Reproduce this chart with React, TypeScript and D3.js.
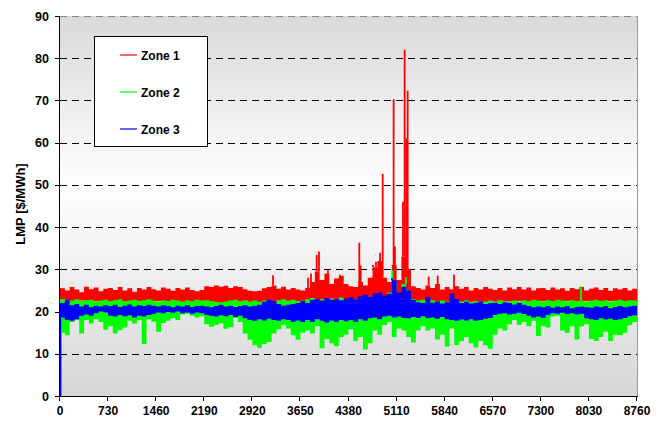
import React from "react";
import * as d3 from "d3";

const xTicks = [0, 730, 1460, 2190, 2920, 3650, 4380, 5110, 5840, 6570, 7300, 8030, 8760];
const yTicks = [0, 10, 20, 30, 40, 50, 60, 70, 80, 90];
const seriesNames = ["Zone 1", "Zone 2", "Zone 3"];
const seriesColors = ["#ff0000", "#00ff00", "#0000ff"];
const BIN_HOURS = 73;
const startValue = 0;

// per-bin (73 h) upper / lower envelope
const zone1High = [
  25.5, 25.0, 25.8, 25.2, 24.6, 25.9, 25.3, 25.7, 24.8, 25.4,
  25.6, 25.1, 25.8, 25.0, 25.5, 24.7, 25.6, 25.2, 25.8, 25.3,
  25.0, 25.7, 25.4, 24.9, 25.6, 25.2, 25.7, 25.1, 24.8, 25.1,
  26.0, 25.8, 26.2, 25.9, 26.1, 25.6, 26.0, 25.8, 25.3, 24.9,
  24.8, 24.9, 25.5, 25.8, 26.2, 25.4, 25.9, 25.2, 25.6, 25.2,
  25.0, 25.6, 27.0, 29.5, 27.5, 29.0, 26.5, 27.8, 28.4, 26.5,
  26.0, 25.8, 27.0, 26.2, 28.0, 30.5, 32.0, 28.0, 27.0, 31.0,
  27.5, 33.0, 30.0, 26.0, 25.6, 25.2, 26.2, 25.6, 26.5, 25.2,
  25.8, 25.3, 26.0, 25.4, 25.8, 25.0, 25.6, 25.2, 25.8, 25.4,
  25.1, 25.6, 25.0, 25.7, 25.3, 25.8, 25.2, 25.7, 25.0, 25.5,
  25.6, 25.1, 25.7, 25.2, 25.5, 24.9, 25.6, 25.3, 25.8, 25.0,
  25.4, 25.7, 25.1, 25.6, 24.9, 25.5, 25.2, 25.6, 25.0, 25.4,
];
const zone1Low = [
  22.4, 22.0, 22.5, 22.2, 22.6, 22.3, 22.1, 22.5, 22.2, 22.4,
  22.3, 22.6, 22.2, 22.4, 22.1, 22.5, 22.3, 22.0, 22.4, 22.2,
  22.5, 22.2, 22.4, 22.1, 22.3, 21.5, 22.4, 22.2, 22.5, 22.3,
  22.2, 22.0, 21.5, 21.4, 21.6, 22.3, 22.4, 22.1, 22.5, 22.2,
  22.3, 21.2, 22.0, 22.4, 22.2, 22.5, 22.3, 22.1, 22.4, 20.2,
  21.0, 22.0, 22.5, 22.3, 22.6, 22.4, 22.2, 22.5, 22.3, 22.6,
  22.4, 22.7, 22.3, 22.5, 22.8, 22.6, 22.9, 22.5, 22.7, 23.0,
  22.8, 23.5, 23.0, 22.5, 22.3, 22.4, 22.2, 22.5, 22.3, 22.4,
  22.2, 22.5, 22.3, 22.1, 22.4, 22.2, 22.5, 22.3, 22.1, 22.4,
  22.3, 22.5, 22.2, 22.4, 22.1, 22.5, 22.3, 22.2, 22.4, 22.3,
  22.5, 22.2, 22.4, 22.3, 22.1, 22.5, 22.3, 22.4, 22.2, 22.5,
  22.3, 22.1, 22.4, 22.2, 22.5, 21.2, 22.3, 22.4, 22.2, 22.4,
];
const zone2High = [
  23.0, 22.8, 22.6, 22.9, 22.5, 22.7, 22.8, 22.4, 22.6, 22.8,
  22.5, 22.7, 22.9, 22.4, 22.6, 22.8, 22.5, 22.7, 22.9, 22.6,
  22.4, 22.7, 22.5, 22.8, 22.6, 22.4, 22.7, 22.5, 22.8, 22.6,
  22.7, 22.5, 22.3, 22.2, 22.4, 22.6, 22.8, 22.5, 22.7, 22.4,
  22.6, 22.3, 22.6, 22.8, 22.5, 22.7, 22.9, 22.6, 22.8, 22.5,
  22.6, 22.9, 23.2, 22.8, 23.0, 22.7, 23.1, 22.9, 23.3, 23.0,
  23.2, 23.0, 23.4, 23.1, 23.5, 23.8, 24.0, 23.6, 24.5, 27.0,
  24.0, 26.5, 25.0, 23.0, 22.6, 22.8, 22.5, 22.7, 22.4, 22.6,
  22.3, 22.5, 22.7, 22.4, 22.6, 22.3, 22.5, 22.2, 22.4, 22.6,
  22.4, 22.7, 22.5, 22.3, 22.6, 22.4, 22.7, 22.5, 22.8, 22.6,
  22.4, 22.7, 22.5, 22.8, 22.6, 22.4, 22.7, 22.5, 22.6, 22.4,
  22.6, 22.8, 22.5, 22.7, 22.4, 22.6, 22.8, 22.5, 22.7, 22.6,
];
const zone2Low = [
  15.0, 14.4, 17.5, 18.0, 14.8, 18.0, 17.2, 18.2, 17.5, 15.7,
  16.5, 14.8, 15.6, 16.2, 17.8, 17.2, 18.0, 12.3, 18.2, 17.6,
  15.2, 17.3, 17.8, 18.4, 18.0, 19.3, 19.5, 19.0, 18.6, 18.9,
  17.0, 16.4, 16.8, 17.2, 15.9, 16.3, 18.5, 17.5, 14.8, 13.3,
  12.0, 11.4, 12.3, 12.8, 14.8, 15.8, 16.8, 16.0, 14.4, 13.3,
  15.0, 15.5, 14.8, 16.5, 11.3, 13.5, 12.5, 11.8, 14.0, 14.5,
  15.8, 13.0, 14.0, 11.0, 12.5, 15.5, 14.5, 16.8, 17.5, 14.0,
  16.0, 15.5, 14.0, 12.7, 15.5, 16.5, 15.5, 16.0, 13.4, 14.5,
  11.7, 16.0, 12.1, 13.0, 14.0, 12.5, 11.5, 13.0, 12.0, 11.2,
  14.5, 16.0, 15.5, 17.0, 18.0, 16.8, 17.5, 16.5, 17.8, 14.2,
  16.5, 16.2, 18.8, 19.0, 15.5, 15.0, 16.5, 13.4, 16.5, 17.0,
  13.5, 13.0, 14.0, 15.2, 13.0, 14.5, 14.4, 15.0, 16.8, 17.5,
];
const zone3High = [
  22.0, 22.8, 21.5, 21.8, 21.2, 21.6, 21.0, 21.4, 21.2, 21.5,
  21.3, 21.6, 21.1, 21.4, 21.7, 21.2, 21.5, 21.3, 21.6, 21.4,
  21.2, 21.5, 21.3, 21.0, 21.4, 21.2, 21.5, 21.1, 21.3, 21.4,
  21.2, 21.0, 21.3, 21.6, 21.2, 21.4, 21.1, 21.3, 21.5, 21.2,
  21.4, 21.6, 22.3, 22.8, 22.5, 21.8, 21.4, 21.6, 21.8, 22.0,
  22.5, 22.0, 22.8, 23.0, 22.6, 23.2, 22.8, 23.0, 22.7, 23.1,
  23.4, 22.9, 23.6, 24.0, 23.5, 24.3, 24.5, 23.8, 24.2, 27.5,
  24.5, 25.8, 25.0, 22.8, 22.2, 22.0, 23.5, 22.1, 22.4, 21.9,
  22.2, 24.2, 23.0, 22.0, 22.3, 21.9, 22.1, 22.4, 21.8, 22.0,
  22.1, 21.8, 22.2, 22.0, 21.7, 22.1, 21.6, 21.3, 21.0, 21.2,
  21.0, 21.3, 20.9, 21.2, 21.0, 21.3, 20.8, 21.1, 21.2, 21.0,
  20.9, 21.2, 21.0, 21.3, 20.8, 21.1, 21.3, 21.0, 21.2, 21.4,
];
const zone3Low = [
  18.6, 18.0, 17.8, 18.2, 19.0, 19.3, 19.0, 19.6, 20.0, 19.8,
  19.0, 18.8, 19.2, 18.9, 19.1, 18.6, 19.0, 18.8, 19.2, 19.5,
  19.8, 19.6, 19.9, 19.7, 20.0, 19.6, 19.8, 19.5, 19.8, 19.6,
  19.2, 19.0, 18.8, 19.1, 18.9, 19.2, 18.7, 19.0, 18.4, 18.0,
  17.8, 18.2, 17.9, 18.3, 18.0, 17.8, 18.2, 18.0, 17.6, 17.9,
  17.5, 18.0, 17.6, 18.2, 17.8, 17.4, 17.9, 17.6, 18.0, 17.7,
  18.0, 17.6, 18.2, 17.8, 18.4, 18.6, 18.2, 18.8, 19.0, 18.6,
  18.8, 18.5, 18.4, 18.7, 18.5, 18.9, 18.4, 18.6, 18.3, 18.7,
  18.2, 18.0, 17.8, 18.1, 17.9, 18.2, 17.8, 18.0, 18.3, 18.5,
  19.2, 19.5, 19.6, 19.3, 19.5, 19.7, 19.4, 19.0, 18.6, 18.8,
  18.5, 19.2, 19.6, 19.5, 19.7, 19.4, 19.6, 19.3, 19.5, 18.4,
  18.2, 18.0, 18.4, 18.1, 18.3, 18.0, 18.2, 18.5, 18.9, 19.1,
];

// isolated price spikes: [hour, $/MWh]
const zone1Peaks: [number, number][] = [
  [3234, 28.6], [3765, 28.0], [3810, 29.0], [3897, 33.4], [3932, 34.2],
  [4068, 29.8], [4220, 27.8], [4250, 28.7], [4296, 28.5], [4544, 36.3],
  [4565, 30.9], [4736, 28.0], [4751, 31.0], [4797, 31.8], [4858, 33.9],
  [4899, 52.6], [5065, 70.3], [5085, 35.4], [5207, 46.0], [5232, 82.0],
  [5256, 61.0], [5278, 72.3], [5597, 28.3], [5734, 28.5], [5982, 28.7],
];
const zone2Peaks: [number, number][] = [
  [5047, 29.8], [5252, 28.2], [7909, 26.0],
];
const zone3Peaks: [number, number][] = [
  [5040, 27.9], [5230, 25.9],
];

const highs = [zone1High, zone2High, zone3High];
const lows = [zone1Low, zone2Low, zone3Low];
const peaks = [zone1Peaks, zone2Peaks, zone3Peaks];

const FONT = "'Liberation Sans', Arial, Helvetica, sans-serif";

type Bin = { h: number; lo: number; hi: number };

export default function App() {
  const W = 660;
  const H = 421;
  const left = 60, right = 637, top = 16, bottom = 396;
  const x = d3.scaleLinear().domain([0, 8760]).range([left, right]);
  const y = d3.scaleLinear().domain([0, 90]).range([bottom, top]);

  const area = d3
    .area<Bin>()
    .x((d) => x(d.h))
    .y0((d) => y(d.lo))
    .y1((d) => y(d.hi))
    .curve(d3.curveStepAfter);

  const bandPath = (k: number) => {
    const bins: Bin[] = highs[k].map((hi, i) => ({ h: i * BIN_HOURS, lo: lows[k][i], hi }));
    bins.push({ h: 8760, lo: lows[k][119], hi: highs[k][119] });
    return area(bins) || "";
  };

  return (
    <svg
      width={W}
      height={H}
      style={{ position: "absolute", left: 0, top: 0, background: "#fff" }}
      fontFamily={FONT}
    >
      <defs>
        <linearGradient id="bg" x1="0" y1="0" x2="0" y2="1">
          <stop offset="0%" stopColor="#d9d9d9" />
          <stop offset="45%" stopColor="#ffffff" />
          <stop offset="100%" stopColor="#d6d6d6" />
        </linearGradient>
        <clipPath id="plot">
          <rect x={left} y={top - 1} width={right - left} height={bottom - top + 1} />
        </clipPath>
      </defs>
      <rect x={left} y={top} width={right - left} height={bottom - top} fill="url(#bg)" />
      {yTicks.slice(1).map((t) => (
        <line
          key={t}
          x1={left}
          x2={right}
          y1={Math.round(y(t)) + 0.5}
          y2={Math.round(y(t)) + 0.5}
          stroke={t === 90 ? "#888" : "#000"}
          strokeWidth={1}
          strokeDasharray="7,5"
        />
      ))}
      <line x1={right + 0.5} x2={right + 0.5} y1={top} y2={bottom} stroke="#999" />
      <g clipPath="url(#plot)">
        {[0, 1, 2].map((k) => (
          <g key={k}>
            <path d={bandPath(k)} fill={seriesColors[k]} stroke="none" />
            <line
              x1={x(0) + 0.5}
              x2={x(0) + 0.5}
              y1={y(startValue)}
              y2={y(highs[k][0])}
              stroke={seriesColors[k]}
              strokeWidth={1.5}
            />
            {peaks[k].map(([h, v], j) => {
              const base = highs[k][Math.min(119, Math.floor(h / BIN_HOURS))];
              return (
                <line
                  key={j}
                  x1={x(h)}
                  x2={x(h)}
                  y1={y(base)}
                  y2={y(v)}
                  stroke={seriesColors[k]}
                  strokeWidth={1.8}
                />
              );
            })}
          </g>
        ))}
      </g>
      <line x1={left - 0.5} x2={left - 0.5} y1={top} y2={bottom} stroke="#000" />
      <line x1={left - 0.5} x2={right + 1} y1={bottom + 0.5} y2={bottom + 0.5} stroke="#000" />
      {yTicks.map((t) => (
        <g key={t}>
          <line
            x1={left - 5}
            x2={left}
            y1={Math.round(y(t)) + 0.5}
            y2={Math.round(y(t)) + 0.5}
            stroke="#000"
          />
          <text x={left - 11} y={y(t) + 4.5} textAnchor="end" fontSize={12.5} fontWeight="bold">
            {t}
          </text>
        </g>
      ))}
      {xTicks.map((t) => (
        <g key={t}>
          <line
            x1={Math.round(x(t)) - 0.5}
            x2={Math.round(x(t)) - 0.5}
            y1={bottom}
            y2={bottom + 5}
            stroke="#000"
          />
          <text x={x(t)} y={bottom + 19} textAnchor="middle" fontSize={12} fontWeight="bold">
            {t}
          </text>
        </g>
      ))}
      <text
        transform={`translate(25,204) rotate(-90)`}
        textAnchor="middle"
        fontSize={13}
        fontWeight="bold"
      >
        LMP [$/MWh]
      </text>
      <rect x={94.5} y={36.5} width={113} height={110} fill="#fff" stroke="#000" />
      {seriesNames.map((n, i) => (
        <g key={n}>
          <line
            x1={120}
            x2={137}
            y1={55 + i * 37}
            y2={55 + i * 37}
            stroke={seriesColors[i]}
            strokeWidth={i === 2 ? 2 : 1.2}
            strokeOpacity={i === 2 ? 0.6 : 1}
          />
          <text x={141} y={55 + i * 37 + 4.5} fontSize={12} fontWeight="bold">
            {n}
          </text>
        </g>
      ))}
    </svg>
  );
}
